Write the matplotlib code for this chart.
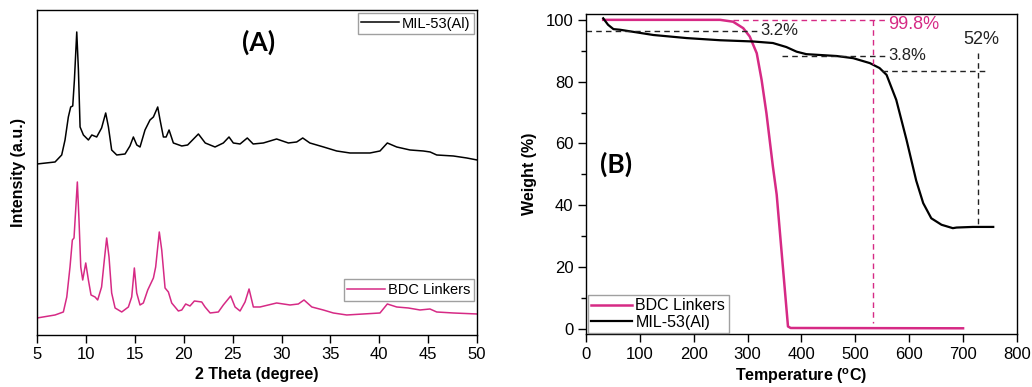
import numpy as np
import matplotlib
matplotlib.use("Agg")
import matplotlib.pyplot as plt

plt.rcParams['font.family'] = ['Liberation Sans', 'DejaVu Sans']

MAGENTA = '#d62a85'

# XRD patterns (2 theta in degrees, intensity in arbitrary units)
mil_2theta = [5.0, 6.84, 7.52, 7.86, 8.2, 8.44, 8.65, 8.82, 9.06, 9.23, 9.4, 9.74,
              10.25, 10.6, 11.1, 11.6, 12.02, 12.3, 12.63, 13.15, 14.0, 14.5, 14.85,
              15.2, 15.53, 16.04, 16.55, 16.9, 17.34, 17.58, 17.92, 18.2, 18.5, 18.94,
              19.8, 20.4, 21.0, 21.5, 22.2, 23.2, 24.05, 24.63, 25.07, 25.76, 26.5,
              27.1, 28.14, 29.5, 30.7, 31.55, 32.17, 32.9, 34.3, 35.64, 37.0, 39.05,
              40.07, 40.82, 41.78, 43.14, 44.5, 45.2, 45.87, 47.57, 48.94, 50.0]
mil_int = [171, 173, 180, 195, 218, 228, 229, 255, 303, 265, 208, 200,
           195, 200, 198, 207, 222, 208, 185, 180, 181, 189, 198,
           190, 188, 205, 215, 218, 228, 215, 198, 198, 205, 192,
           189, 190, 196, 201, 192, 188, 192, 198, 192, 191, 197,
           191, 192, 196, 192, 193, 197, 192, 188, 184, 182, 182,
           184, 192, 188, 185, 184, 183, 180, 179, 177, 175]

bdc_2theta = [5.0, 6.84, 7.69, 8.04, 8.37, 8.61, 8.78, 8.95, 9.12, 9.29, 9.47, 9.67,
              9.98, 10.25, 10.52, 10.93, 11.2, 11.6, 11.88, 12.12, 12.36, 12.63, 12.98,
              13.66, 14.34, 14.68, 14.95, 15.19, 15.53, 15.87, 16.32, 16.9, 17.13, 17.5,
              17.75, 18.09, 18.43, 18.77, 19.45, 19.8, 20.2, 20.64, 21.09, 21.84, 22.18,
              22.7, 23.54, 24.05, 24.8, 25.25, 25.76, 26.27, 26.68, 27.12, 27.8, 29.5,
              30.87, 31.72, 32.3, 33.1, 34.27, 35.3, 36.67, 38.37, 40.07, 40.82, 41.78,
              42.97, 44.16, 45.18, 45.87, 47.57, 50.0]
bdc_int = [17, 20, 23, 38, 68, 95, 97, 125, 153, 115, 68, 55,
           72, 55, 40, 38, 35, 48, 75, 97, 78, 42, 27,
           23, 28, 38, 67, 42, 30, 32, 45, 57, 68, 103,
           85, 47, 43, 32, 24, 25, 31, 29, 34, 33, 28,
           22, 23, 30, 39, 28, 24, 33, 46, 28, 28, 32,
           30, 31, 35, 28, 25, 22, 20, 21, 22, 31, 28,
           27, 25, 26, 23, 22, 21]

# TGA curves (temperature in degC, weight in %)
mil_temp = [32, 41, 51, 63, 125, 187, 249, 310, 347, 372, 391, 409, 465, 496, 527,
            545, 558, 576, 595, 613, 626, 641, 660, 681, 688, 718, 756]
mil_wt = [100.5, 98.4, 97.0, 96.8, 95.1, 94.1, 93.4, 93.0, 92.5, 91.2, 89.7, 88.9,
          88.3, 87.6, 86.0, 84.4, 82.2, 74.1, 61.2, 48.0, 40.7, 35.8, 33.7, 32.6,
          32.8, 33.0, 33.0]

bdc_temp = [32, 249, 273, 292, 304, 317, 326, 335, 347, 354, 375, 380, 700]
bdc_wt = [100.0, 100.0, 99.4, 97.3, 94.6, 89.2, 80.6, 69.8, 52.5, 43.5, 0.8, 0.3, 0.2]

fig = plt.figure(figsize=(10.32, 3.87), dpi=100)
ax1 = fig.add_axes([0.0359, 0.1344, 0.4264, 0.8398])
ax2 = fig.add_axes([0.5678, 0.1357, 0.4176, 0.8282])

# ---- (A) XRD ----
l1, = ax1.plot(mil_2theta, mil_int, color='black', lw=1.1)
l2, = ax1.plot(bdc_2theta, bdc_int, color=MAGENTA, lw=1.1)
ax1.set_xlim(5, 50)
ax1.set_ylim(0, 325)
ax1.set_xticks(np.arange(5, 51, 5))
ax1.set_yticks([])
ax1.tick_params(axis='x', direction='out', length=6, width=1, labelsize=12, pad=3)
ax1.set_xlabel('2 Theta (degree)', fontsize=11.5, fontweight='bold', labelpad=3)
ax1.set_ylabel('Intensity (a.u.)', fontsize=11.5, fontweight='bold', labelpad=8)
ax1.text(0.503, 0.9, '(A)', transform=ax1.transAxes, fontsize=19,
         fontweight='bold', family=['Lato', 'DejaVu Sans'], ha='center', va='center')
leg_a1 = ax1.legend([l1], ['MIL-53(Al)'], loc='upper right', fontsize=10.5,
                    frameon=True, fancybox=False, edgecolor='#888888',
                    borderaxespad=0.2, handlelength=2.6, handletextpad=0.2,
                    borderpad=0.25)
ax1.add_artist(leg_a1)
ax1.legend([l2], ['BDC Linkers'], loc='upper right', bbox_to_anchor=(1.0, 0.18),
           fontsize=10.5, frameon=True, fancybox=False, edgecolor='#888888',
           borderaxespad=0.2, handlelength=2.6, handletextpad=0.2, borderpad=0.25)

# ---- (B) TGA ----
t1, = ax2.plot(bdc_temp, bdc_wt, color=MAGENTA, lw=1.8)
t2, = ax2.plot(mil_temp, mil_wt, color='black', lw=1.6)
ax2.set_xlim(0, 800)
ax2.set_ylim(-1.8, 101.9)
ax2.set_xticks(np.arange(0, 801, 100))
ax2.set_yticks(np.arange(0, 101, 20))
ax2.set_yticks(np.arange(10, 100, 20), minor=True)
ax2.tick_params(axis='both', which='major', direction='out', length=6, width=1,
                labelsize=12, pad=3)
ax2.tick_params(axis='y', which='minor', direction='out', length=3.5, width=1)
ax2.set_xlabel('Temperature ($\\mathregular{^oC}$)', fontsize=11.5,
               fontweight='bold', labelpad=3)
ax2.set_ylabel('Weight (%)', fontsize=11.5, fontweight='bold', labelpad=6)

dash = dict(lw=1.0, dashes=(4, 3))
ax2.plot([0, 319], [96.4, 96.4], color='#222222', **dash)
ax2.text(323, 96.4, '3.2%', fontsize=12, va='center', ha='left', color='#222222')
ax2.plot([273, 558], [100, 100], color=MAGENTA, **dash)
ax2.plot([532, 532], [100, 2], color=MAGENTA, **dash)
ax2.text(561, 98.4, '99.8%', fontsize=13, va='center', ha='left', color=MAGENTA)
ax2.plot([363, 558], [88.3, 88.3], color='#222222', **dash)
ax2.text(562, 88.6, '3.8%', fontsize=12, va='center', ha='left', color='#222222')
ax2.plot([549, 746], [83.6, 83.6], color='#222222', **dash)
ax2.plot([728, 728], [89.2, 33.1], color='#222222', **dash)
ax2.text(733, 93.6, '52%', fontsize=13, va='center', ha='center', color='#222222')
ax2.text(0.033, 0.53, '(B)', transform=ax2.transAxes, fontsize=19,
         fontweight='bold', family=['Lato', 'DejaVu Sans'], ha='left', va='center')
ax2.legend([t1, t2], ['BDC Linkers', 'MIL-53(Al)'], loc='lower left', fontsize=11.5,
           frameon=True, fancybox=False, edgecolor='#888888', borderaxespad=0.1,
           handlelength=2.6, handletextpad=0.2, borderpad=0.2, labelspacing=0.1)

for ax in (ax1, ax2):
    for s in ax.spines.values():
        s.set_linewidth(1.0)

fig.savefig('out.png', dpi=100)
